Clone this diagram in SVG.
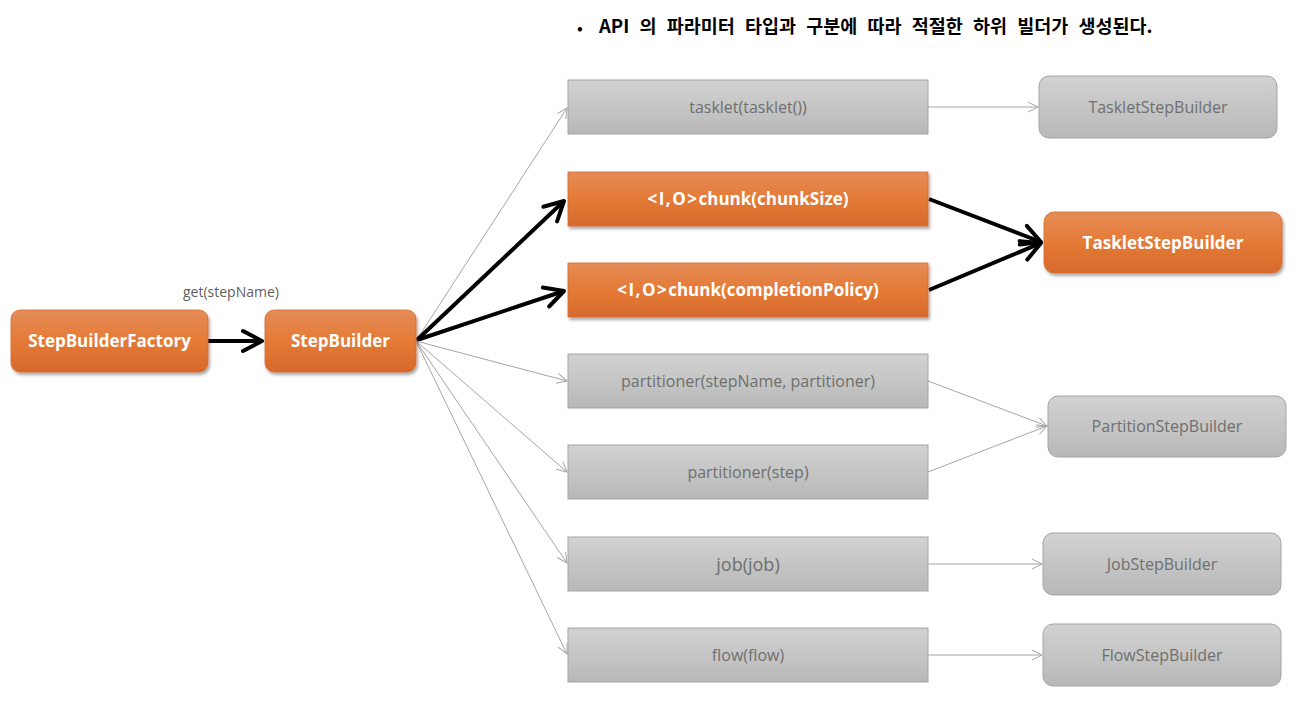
<svg xmlns="http://www.w3.org/2000/svg" width="1301" height="701" viewBox="0 0 1301 701">
<style>
  .t-or { font-family: "Open Sans", "Noto Sans", sans-serif; font-weight: bold; font-size: 17px; fill: #ffffff; text-anchor: middle; }
  .t-gr { font-family: "Open Sans", "Noto Sans", sans-serif; font-size: 16px; fill: #6f6f6f; text-anchor: middle; }
  .orange { fill: url(#gOrange); stroke: #d7692e; stroke-width: 0.8; filter: url(#shadow); }
  .gray { fill: url(#gGray); stroke: #a5a5a5; stroke-width: 1; }
  .thin { stroke: #a6a6a6; stroke-width: 1; fill: none; marker-end: url(#mThin); }
  .thick { stroke: #000000; stroke-width: 4; fill: none; marker-end: url(#mThick); }
  .ls { letter-spacing: 1.5px; }
</style>
<defs>
  <linearGradient id="gOrange" x1="0" y1="0" x2="0" y2="1">
    <stop offset="0" stop-color="#e58c58"/>
    <stop offset="0.5" stop-color="#e47a36"/>
    <stop offset="1" stop-color="#d76a2c"/>
  </linearGradient>
  <linearGradient id="gGray" x1="0" y1="0" x2="0" y2="1">
    <stop offset="0" stop-color="#d2d2d2"/>
    <stop offset="1" stop-color="#b8b8b8"/>
  </linearGradient>
  <filter id="shadow" x="-10%" y="-20%" width="125%" height="150%">
    <feDropShadow dx="1.5" dy="2.5" stdDeviation="1.5" flood-color="#000000" flood-opacity="0.35"/>
  </filter>
  <marker id="mThin" markerUnits="userSpaceOnUse" viewBox="-12 -7 14 14" markerWidth="14" markerHeight="14" refX="0" refY="0" orient="auto">
    <path d="M-10,-5 L0,0 L-10,5" fill="none" stroke="#a6a6a6" stroke-width="1"/>
  </marker>
  <marker id="mThick" markerUnits="userSpaceOnUse" viewBox="-24 -14 28 28" markerWidth="28" markerHeight="28" refX="0" refY="0" orient="auto">
    <path d="M-19,-10 L0,0 L-19,10" fill="none" stroke="#000000" stroke-width="4" stroke-linecap="round" stroke-linejoin="round"/>
  </marker>
</defs>
<rect x="0" y="0" width="1301" height="701" fill="#ffffff"/>

<g id="title">
  <text x="577" y="34" font-family="'Noto Sans CJK KR', sans-serif" font-size="17" fill="#000">•</text>
  <text x="599" y="33" font-family="'Noto Sans CJK KR', sans-serif" font-weight="bold" font-size="18.5" word-spacing="6" fill="#000">API 의 파라미터 타입과 구분에 따라 적절한 하위 빌더가 생성된다.</text>
</g>

<g id="connectors">
  <path class="thick" d="M208,341 L262,341"/>
  <path class="thin" d="M416,341 L567,108"/>
  <path class="thick" d="M417,340 L564,201"/>
  <path class="thick" d="M417,340 L564,291"/>
  <path class="thin" d="M416,341 L567,381"/>
  <path class="thin" d="M416,341 L567,472"/>
  <path class="thin" d="M416,341 L567,563"/>
  <path class="thin" d="M416,341 L567,654"/>
  <path class="thin" d="M928,107 L1038,107"/>
  <path class="thick" d="M929,199 L1041,242"/>
  <path class="thick" d="M929,290 L1041,243"/>
  <path class="thin" d="M928,381 L1047,426"/>
  <path class="thin" d="M928,472 L1047,426"/>
  <path class="thin" d="M928,564 L1042,564"/>
  <path class="thin" d="M928,655 L1042,655"/>
  <text x="231" y="297" font-family="'Open Sans', sans-serif" font-size="14" fill="#5f5f5f" text-anchor="middle">get(stepName)</text>
</g>

<g id="n-stepBuilderFactory">
  <rect class="orange" x="11" y="310" width="197" height="62" rx="9"/>
  <text class="t-or" x="109.5" y="347">StepBuilderFactory</text>
</g>
<g id="n-stepBuilder">
  <rect class="orange" x="265" y="310" width="151" height="62" rx="9"/>
  <text class="t-or" x="340.5" y="347">StepBuilder</text>
</g>

<g id="n-tasklet">
  <rect class="gray" x="568" y="80" width="360" height="54"/>
  <text class="t-gr" x="748" y="113">tasklet(tasklet())</text>
</g>
<g id="n-chunkSize">
  <rect class="orange" x="568" y="172" width="360" height="54"/>
  <text class="t-or" x="748" y="205"><tspan class="ls">&lt;I,O&gt;</tspan>chunk(chunkSize)</text>
</g>
<g id="n-chunkPolicy">
  <rect class="orange" x="568" y="263" width="360" height="54"/>
  <text class="t-or" x="748" y="296"><tspan class="ls">&lt;I,O&gt;</tspan>chunk(completionPolicy)</text>
</g>
<g id="n-partitioner1">
  <rect class="gray" x="568" y="354" width="360" height="54"/>
  <text class="t-gr" x="748" y="387">partitioner(stepName, partitioner)</text>
</g>
<g id="n-partitioner2">
  <rect class="gray" x="568" y="445" width="360" height="54"/>
  <text class="t-gr" x="748" y="478">partitioner(step)</text>
</g>
<g id="n-job">
  <rect class="gray" x="568" y="537" width="360" height="54"/>
  <text class="t-gr" x="748" y="571" style="font-size:18px">job(job)</text>
</g>
<g id="n-flow">
  <rect class="gray" x="568" y="628" width="360" height="54"/>
  <text class="t-gr" x="748" y="661">flow(flow)</text>
</g>

<g id="n-taskletStepBuilderGray">
  <rect class="gray" x="1039" y="76" width="238" height="62" rx="10"/>
  <text class="t-gr" x="1158" y="113">TaskletStepBuilder</text>
</g>
<g id="n-taskletStepBuilderOrange">
  <rect class="orange" x="1044" y="212" width="238" height="61" rx="10"/>
  <text class="t-or" x="1163" y="249">TaskletStepBuilder</text>
</g>
<g id="n-partitionStepBuilder">
  <rect class="gray" x="1048" y="396" width="238" height="61" rx="10"/>
  <text class="t-gr" x="1167" y="432">PartitionStepBuilder</text>
</g>
<g id="n-jobStepBuilder">
  <rect class="gray" x="1043" y="533" width="238" height="62" rx="10"/>
  <text class="t-gr" x="1162" y="570">JobStepBuilder</text>
</g>
<g id="n-flowStepBuilder">
  <rect class="gray" x="1043" y="624" width="238" height="62" rx="10"/>
  <text class="t-gr" x="1162" y="661">FlowStepBuilder</text>
</g>
</svg>
